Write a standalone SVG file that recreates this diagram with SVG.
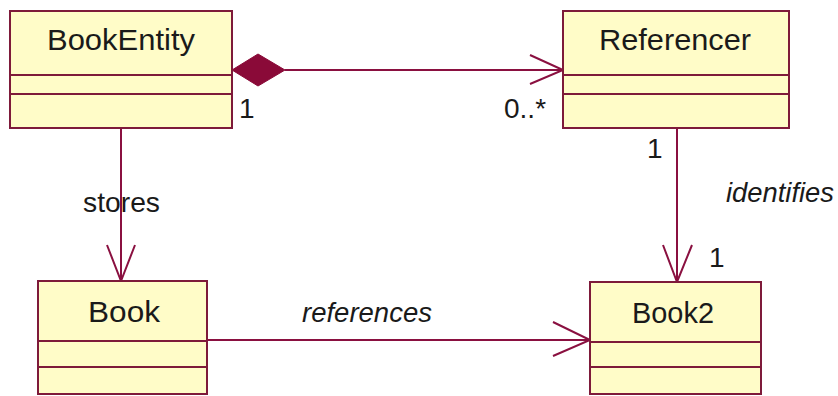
<svg xmlns="http://www.w3.org/2000/svg" width="838" height="396" viewBox="0 0 838 396">
<style>
.box{fill:#fffcc8;stroke:#7e1a3a;stroke-width:2}
.div{stroke:#7e1a3a;stroke-width:2}
.edge{stroke:#8a1040;stroke-width:2;fill:none}
.name{font-family:"Liberation Sans",Arial,sans-serif;font-size:30px;fill:#1a1a1a;text-anchor:middle}
.lbl{font-family:"Liberation Sans",Arial,sans-serif;font-size:28px;fill:#1a1a1a}
.it{font-style:italic}
</style>
<rect width="838" height="396" fill="#ffffff"/>
<g id="connectors">
  <line class="edge" x1="285" y1="70" x2="563" y2="70"/>
  <polyline class="edge" points="530,55 563,70 530,84"/>
  <polygon points="232,70 258,54 285,70 258,86" fill="#8a0a38" stroke="#8a0a38" stroke-width="1"/>
  <line class="edge" x1="121" y1="128" x2="121" y2="281"/>
  <polyline class="edge" points="107,245 121,281 135,245"/>
  <line class="edge" x1="677" y1="128" x2="677" y2="282"/>
  <polyline class="edge" points="663,245 677,282 692,245"/>
  <line class="edge" x1="207" y1="340" x2="590" y2="340"/>
  <polyline class="edge" points="553,322 590,340 553,356"/>
  <text class="lbl" x="239" y="118">1</text>
  <text class="lbl" x="504" y="118">0..*</text>
  <text class="lbl" x="647" y="158">1</text>
  <text class="lbl" x="709" y="267">1</text>
  <text class="lbl" x="83" y="212" textLength="77" lengthAdjust="spacingAndGlyphs">stores</text>
  <text class="lbl it" x="302" y="322" textLength="130" lengthAdjust="spacingAndGlyphs">references</text>
  <text class="lbl it" x="726" y="202" textLength="108" lengthAdjust="spacingAndGlyphs">identifies</text>
</g>
<g id="BookEntity">
  <rect class="box" x="10" y="11" width="222" height="117"/>
  <line class="div" x1="10" y1="75" x2="232" y2="75"/>
  <line class="div" x1="10" y1="94" x2="232" y2="94"/>
  <text class="name" x="121" y="50" textLength="148" lengthAdjust="spacingAndGlyphs">BookEntity</text>
</g>
<g id="Referencer">
  <rect class="box" x="563" y="11" width="226" height="117"/>
  <line class="div" x1="563" y1="75" x2="789" y2="75"/>
  <line class="div" x1="563" y1="94" x2="789" y2="94"/>
  <text class="name" x="675" y="50" textLength="152" lengthAdjust="spacingAndGlyphs">Referencer</text>
</g>
<g id="Book">
  <rect class="box" x="38" y="281" width="169" height="113"/>
  <line class="div" x1="38" y1="341" x2="207" y2="341"/>
  <line class="div" x1="38" y1="367" x2="207" y2="367"/>
  <text class="name" x="124" y="322" textLength="72" lengthAdjust="spacingAndGlyphs">Book</text>
</g>
<g id="Book2">
  <rect class="box" x="590" y="282" width="171" height="112"/>
  <line class="div" x1="590" y1="342" x2="761" y2="342"/>
  <line class="div" x1="590" y1="367" x2="761" y2="367"/>
  <text class="name" x="673" y="323" textLength="82" lengthAdjust="spacingAndGlyphs">Book2</text>
</g>
</svg>
